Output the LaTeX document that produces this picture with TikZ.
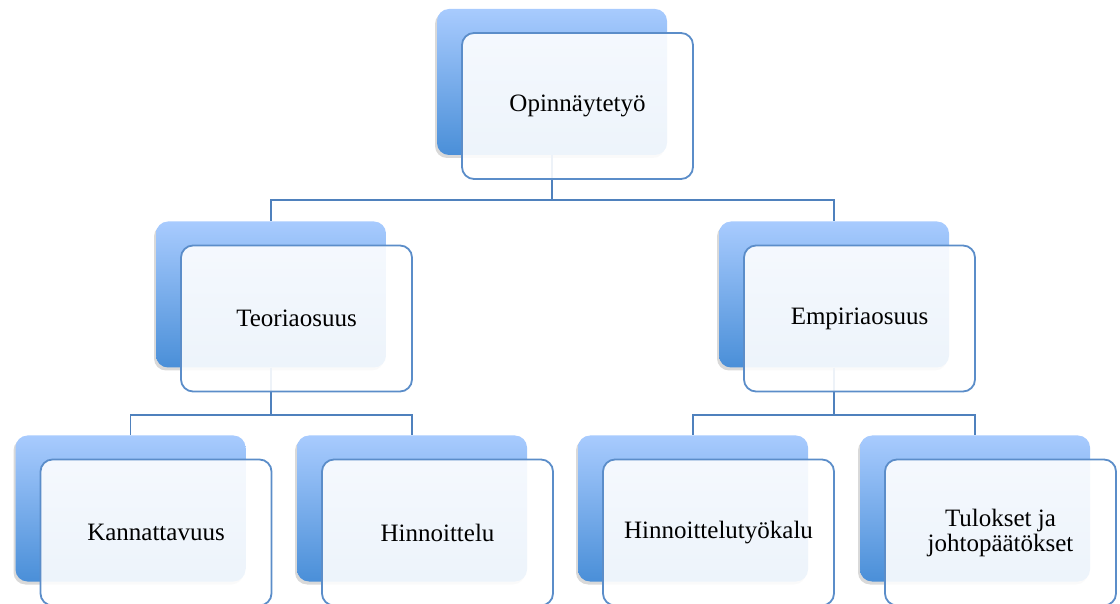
\documentclass[tikz,border=0pt]{standalone}
\usepackage{fontspec}
\setmainfont{Liberation Serif}
\usepackage{tikz}
\usetikzlibrary{shadows}

\definecolor{linecol}{HTML}{4F81BD}
\definecolor{edgecol}{HTML}{5B8DC9}
\definecolor{toplight}{HTML}{A8CBFE}
\definecolor{botdark}{HTML}{4A8FD8}

\begin{document}
\begin{tikzpicture}[x=1pt,y=1pt]
        \tikzset{backbox/.style={rectangle, rounded corners=12pt, minimum width=230pt, minimum height=146pt, inner sep=0pt, top color=toplight, bottom color=botdark, draw=none, drop shadow={shadow xshift=-2pt, shadow yshift=-3pt, opacity=0.3}}}
        \tikzset{frontbox/.style={rectangle, rounded corners=12pt, minimum width=231pt, minimum height=146pt, inner sep=0pt, draw=edgecol, line width=1.8pt, fill=white, fill opacity=0.9, text opacity=1, align=center, font=\fontsize{25}{25}\selectfont}}
        \tikzset{conn/.style={draw=linecol, line width=1.9pt}}

	\useasboundingbox (0,0) rectangle (1120,603);

	%---NODES---
        \node[backbox] (opin) at (552,521) {};

        \node[backbox] (teo) at (271,308.5) {};
        \node[backbox] (emp) at (834,308.5) {};

        \node[backbox] (kan) at (130.5,94.5) {};
        \node[backbox] (hin) at (412,94.5) {};
        \node[backbox] (hty) at (693,94.5) {};
        \node[backbox] (tul) at (975,94.5) {};

	%---EDGES---
        \draw[conn]   (opin.south) -- ++(0,-45) -| (teo.north) ;
        \draw[conn]   (opin.south) -- ++(0,-45) -| (emp.north) ;

        \draw[conn]   (teo.south) -- ++(0,-47) -| (kan.north) ;
        \draw[conn]   (teo.south) -- ++(0,-47) -| (hin.north) ;

        \draw[conn]   (emp.south) -- ++(0,-47) -| (hty.north) ;
        \draw[conn]   (emp.south) -- ++(0,-47) -| (tul.north) ;

	%---LABELS---
        \node[frontbox] (opinf) at ([shift={(25.5,-24)}]opin.center) {Opinnäytetyö};

        \node[frontbox] (teof) at ([shift={(25.5,-24)}]teo.center) {Teoriaosuus};
        \node[frontbox] (empf) at ([shift={(25.5,-24)}]emp.center) {Empiriaosuus};

        \node[frontbox] (kanf) at ([shift={(25.5,-24)}]kan.center) {Kannattavuus};
        \node[frontbox] (hinf) at ([shift={(25.5,-24)}]hin.center) {Hinnoittelu};
        \node[frontbox] (htyf) at ([shift={(25.5,-24)}]hty.center) {Hinnoittelutyökalu};
        \node[frontbox] (tulf) at ([shift={(25.5,-24)}]tul.center) {Tulokset ja\\johtopäätökset};

    \end{tikzpicture}
\end{document}
